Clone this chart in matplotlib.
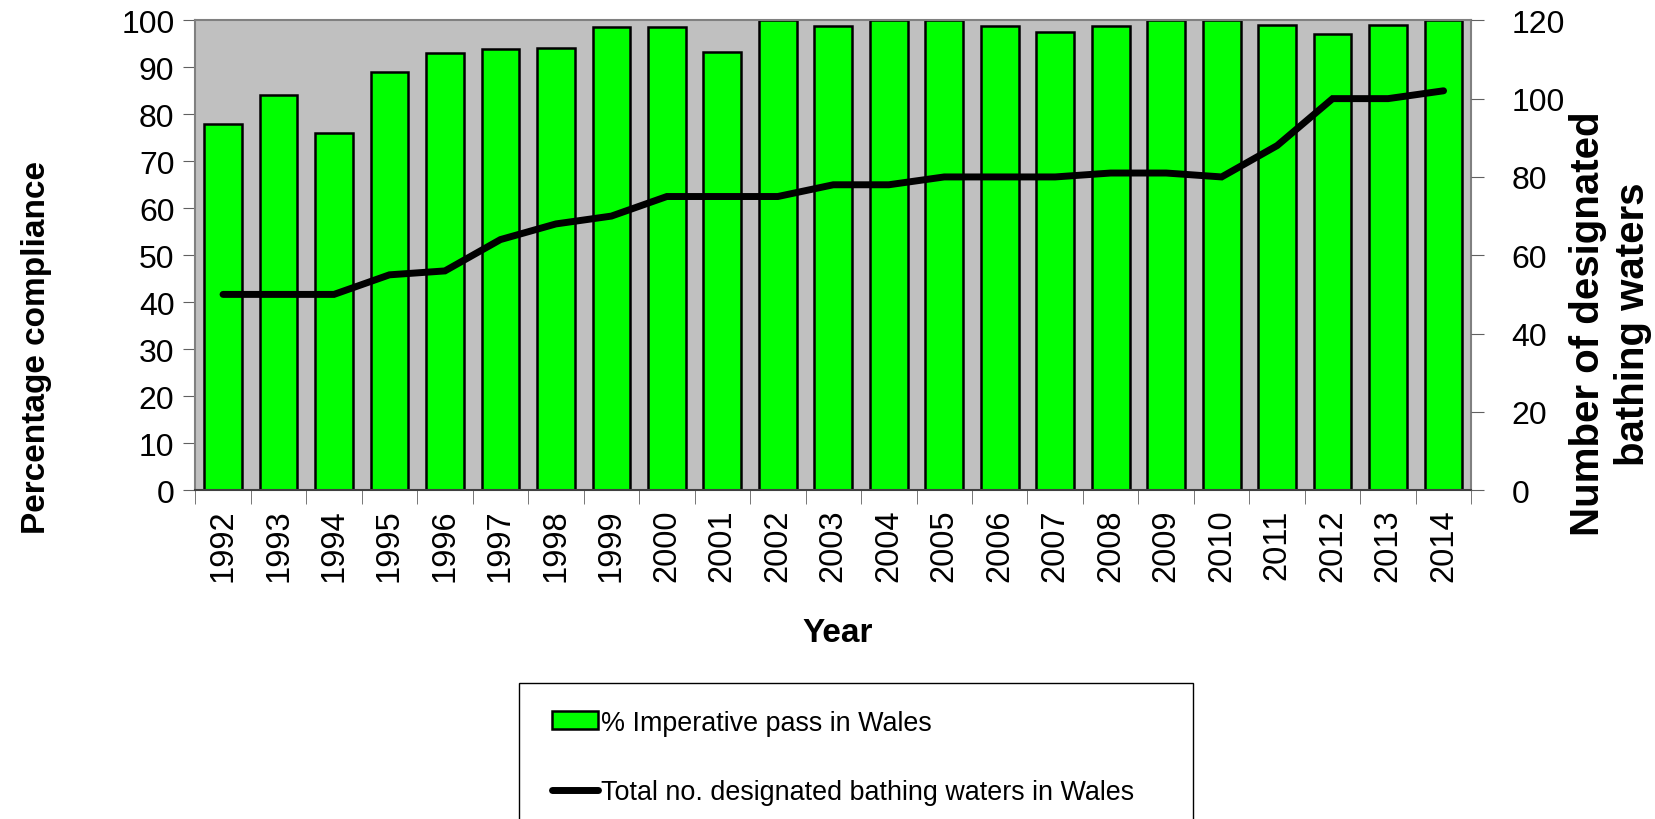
import matplotlib
matplotlib.use("Agg")
import matplotlib.pyplot as plt
import numpy as np
from matplotlib.patches import Patch, Rectangle
from matplotlib.lines import Line2D

years = [str(y) for y in range(1992, 2015)]
pct_pass = [78, 84, 76, 89, 93, 93.8, 94.1, 98.5, 98.6, 93.3, 100, 98.7, 100,
            100, 98.8, 97.5, 98.8, 100, 100, 98.9, 97.0, 99.0, 100]
n_waters = [50, 50, 50, 55, 56, 64, 68, 70, 75, 75, 75, 78, 78,
            80, 80, 80, 81, 81, 80, 88, 100, 100, 102]

plt.rcParams['font.family'] = ['Liberation Sans', 'DejaVu Sans']

TICK_FS = 23

fig = plt.figure(figsize=(16.55, 8.2), dpi=100)
ax = fig.add_axes([0.118, 0.401, 0.771, 0.573])
ax.set_facecolor('#C0C0C0')

x = np.arange(len(years))
ax.bar(x, pct_pass, width=0.68, color='#00FF00', edgecolor='black', linewidth=1.8,
       zorder=2)
ax.set_xlim(-0.5, len(years) - 0.5)
ax.set_ylim(0, 100)
ax.set_yticks(range(0, 101, 10))
ax.set_xticks(x)
ax.set_xticklabels(years, rotation=90, fontsize=TICK_FS + 0.5)
ax.set_xticks(np.arange(-0.5, len(years), 1), minor=True)
ax.tick_params(axis='x', which='major', length=0, pad=13)
ax.tick_params(axis='x', which='minor', length=10, color='#606060', direction='out')
ax.tick_params(axis='y', labelsize=TICK_FS, length=9, color='#606060', direction='out', pad=6)

for s in ['top', 'left', 'right', 'bottom']:
    ax.spines[s].set_color('#808080')
    ax.spines[s].set_linewidth(1.5)
ax.spines['bottom'].set_color('#404040')

ax2 = ax.twinx()
ax2.plot(x, n_waters, color='black', linewidth=5, solid_capstyle='round',
         solid_joinstyle='miter', zorder=3)
ax2.set_ylim(0, 120)
ax2.set_yticks(range(0, 121, 20))
ax2.tick_params(axis='y', labelsize=TICK_FS, length=9, color='#606060', direction='out', pad=20)
for s in ['top', 'left', 'right', 'bottom']:
    ax2.spines[s].set_visible(False)

fig.text(0.022, 0.576, "Percentage compliance", rotation=90, ha='center', va='center',
         fontsize=24, fontweight='bold')
fig.text(0.973, 0.605, "Number of designated\nbathing waters", rotation=90,
         ha='center', va='center', multialignment='center', fontsize=29,
         fontweight='bold', linespacing=1.25)
fig.text(0.506, 0.228, "Year", ha='center', va='center', fontsize=24, fontweight='bold')

# legend box, runs off the bottom of the figure as in the original
fig.add_artist(Rectangle((0.3137, -0.05), 0.4072, 0.216, transform=fig.transFigure,
                         facecolor='white', edgecolor='black', linewidth=1.0))

handles = [Patch(facecolor='#00FF00', edgecolor='black', linewidth=1.8),
           Line2D([], [], color='black', linewidth=5, solid_capstyle='round')]
labels = ["% Imperative pass in Wales", "Total no. designated bathing waters in Wales"]
leg = fig.legend(handles, labels, loc='upper left', bbox_to_anchor=(0.3335, 0.1335),
                 fontsize=19.4, frameon=False,
                 handlelength=1.7, handleheight=0.6, handletextpad=0.12,
                 labelspacing=1.62, borderpad=0, borderaxespad=0)

fig.savefig("out.png", dpi=100)
